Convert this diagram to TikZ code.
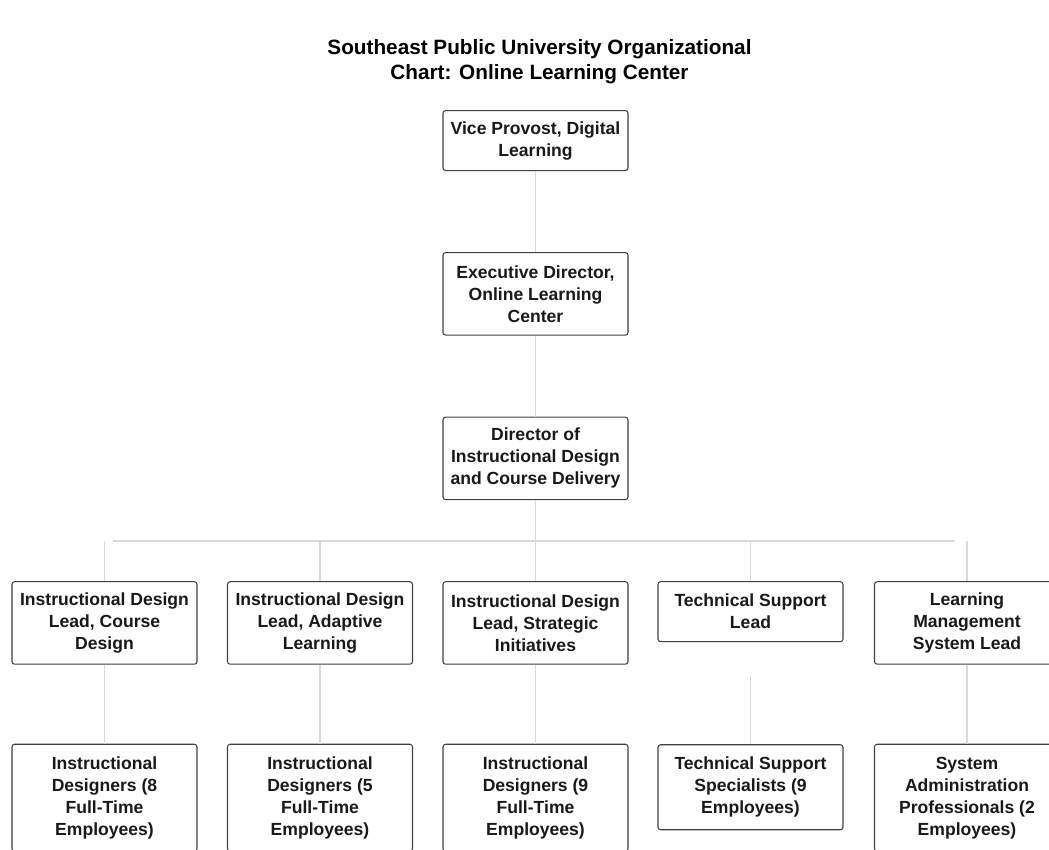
\documentclass[tikz,border=0pt]{standalone}
\usepackage{fontspec}
\setmainfont{Liberation Sans}
\usetikzlibrary{positioning,calc}

\tikzset{
  orgbox/.style={draw=black!75, line width=0.6pt, rounded corners=1.5pt,
    minimum width=3.7cm, inner ysep=4pt, align=center, anchor=north,
    text=black!90, font=\bfseries\fontsize{10}{12.5}\selectfont},
  twoline/.style={orgbox, minimum height=1.2cm},
  threeline/.style={orgbox, minimum height=1.65cm},
  fourline/.style={orgbox, minimum height=2.14cm},
  link/.style={draw=black!15, line width=0.8pt}
}

\begin{document}
\begin{tikzpicture}
    \useasboundingbox (0,0) rectangle (20.98,-17);
    \clip (0,0) rectangle (20.98,-17);
    \node[font=\bfseries\fontsize{11.8}{14.2}\selectfont, align=center] (title) at (10.79,-1.23)
      {Southeast Public University Organizational\\ Chart: Online Learning Center};
    % top of the chain
    \node[twoline] (vp) at (10.71,-2.2) {Vice Provost, Digital\\ Learning};
    \node[threeline, below=1.62cm of vp] (exec) {Executive Director,\\ Online Learning\\ Center};
    \node[threeline, below=1.62cm of exec] (dir) {Director of\\ Instructional Design\\ and Course Delivery};
    % leads
    \node[threeline, below=1.62cm of dir, xshift=-8.62cm] (lead1) {Instructional Design\\ Lead, Course\\ Design};
    \node[threeline, below=1.62cm of dir, xshift=-4.31cm] (lead2) {Instructional Design\\ Lead, Adaptive\\ Learning};
    \node[threeline, below=1.62cm of dir] (lead3) {Instructional Design\\ Lead, Strategic\\ Initiatives};
    \node[twoline, below=1.62cm of dir, xshift=4.3cm] (lead4) {Technical Support\\ Lead};
    \node[threeline, below=1.62cm of dir, xshift=8.63cm] (lead5) {Learning\\ Management\\ System Lead};
    % teams
    \node[fourline, below=1.58cm of lead1] (team1) {Instructional\\ Designers (8\\ Full-Time\\ Employees)};
    \node[fourline, below=1.58cm of lead2] (team2) {Instructional\\ Designers (5\\ Full-Time\\ Employees)};
    \node[fourline, below=1.58cm of lead3] (team3) {Instructional\\ Designers (9\\ Full-Time\\ Employees)};
    \node[orgbox, minimum height=1.7cm, below=2.04cm of lead4] (team4) {Technical Support\\ Specialists (9\\ Employees)};
    \node[fourline, below=1.58cm of lead5] (team5) {System\\ Administration\\ Professionals (2\\ Employees)};

    \draw[link] (vp) -- (exec);
    \draw[link] (exec) -- (dir);
    \draw[link] (dir.south) -- ++(0,-0.82) coordinate (bar);
    \draw[link] ($(bar -| lead1.north)+(0.17,0)$) -- ($(bar -| lead5.north)+(-0.24,0)$);
    \foreach \i in {1,2,3,5}
      \draw[link] (bar -| lead\i.north) -- (lead\i.north)
                  (lead\i.south) -- (team\i.north);
    \draw[link] (bar -| lead4.north) -- (lead4.north);
    \draw[link, shorten <=0.7cm] (lead4.south) -- (team4.north);
\end{tikzpicture}
\end{document}
